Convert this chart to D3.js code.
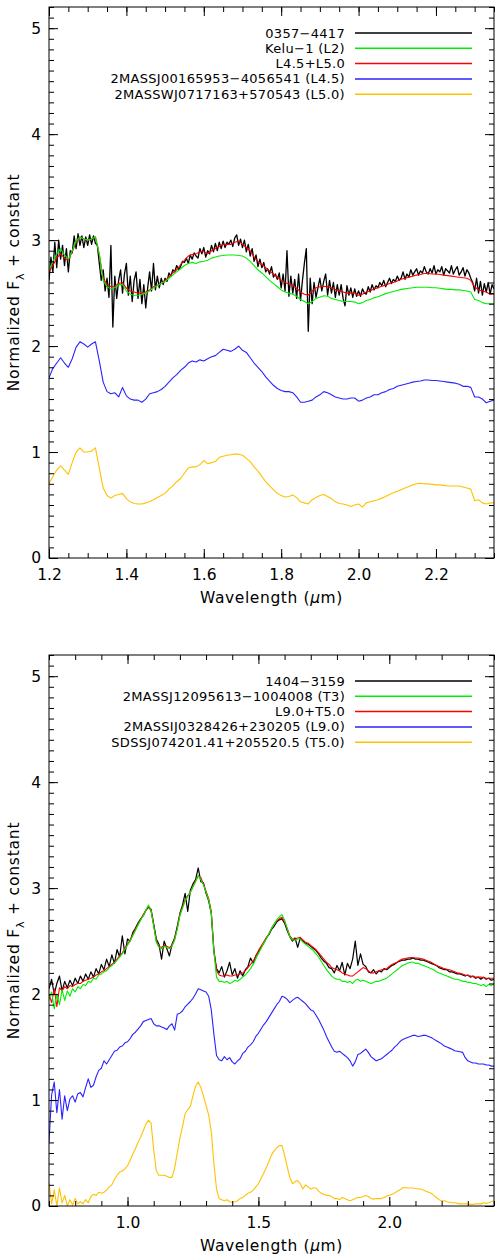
<!DOCTYPE html>
<html>
<head>
<meta charset="utf-8">
<script src="https://cdn.jsdelivr.net/npm/d3@7"></script>
<style>
  body { margin: 0; background: #fff; }
  svg { display: block; font-family: "DejaVu Sans", sans-serif; }
</style>
</head>
<body>
<div id="chart"></div>
<script>
// ---- top panel: 0357-4417 (L-dwarf fit), sampled every 0.01 um from 1.20 ----
const topStart = 1.20, topStep = 0.01;
const topRed = [
  2.70,2.76,2.83,2.87,2.83,2.81,2.89,2.98,3.03,3.01,
  3.00,3.01,3.03,2.86,2.64,2.58,2.56,2.565,2.59,2.60,
  2.545,2.52,2.51,2.50,2.50,2.51,2.53,2.56,2.575,2.59,
  2.62,2.65,2.69,2.72,2.77,2.81,2.85,2.865,2.87,2.89,
  2.89,2.87,2.90,2.92,2.94,2.96,2.96,2.96,2.98,2.99,
  2.96,2.93,2.90,2.84,2.80,2.77,2.74,2.71,2.68,2.65,
  2.62,2.60,2.585,2.575,2.545,2.51,2.49,2.48,2.52,2.55,
  2.56,2.565,2.56,2.55,2.535,2.52,2.51,2.50,2.50,2.50,
  2.48,2.49,2.51,2.52,2.54,2.55,2.565,2.575,2.59,2.60,
  2.615,2.63,2.64,2.65,2.66,2.67,2.675,2.685,2.685,2.68,
  2.68,2.675,2.67,2.665,2.66,2.655,2.65,2.645,2.64,2.62,
  2.56,2.53,2.52,2.51,2.49,2.49];
const topGreen = [
  2.72,2.80,2.87,2.92,2.86,2.82,2.90,2.99,3.03,3.01,
  3.00,3.01,3.03,2.87,2.62,2.56,2.54,2.55,2.58,2.58,
  2.52,2.49,2.48,2.48,2.49,2.50,2.52,2.55,2.57,2.59,
  2.61,2.64,2.67,2.70,2.73,2.76,2.78,2.79,2.78,2.795,
  2.80,2.81,2.83,2.84,2.85,2.855,2.86,2.86,2.86,2.855,
  2.85,2.83,2.80,2.76,2.72,2.69,2.655,2.62,2.59,2.56,
  2.53,2.51,2.50,2.49,2.47,2.44,2.42,2.40,2.42,2.45,
  2.46,2.475,2.47,2.45,2.44,2.43,2.42,2.42,2.42,2.415,
  2.40,2.41,2.43,2.44,2.455,2.465,2.48,2.495,2.505,2.515,
  2.525,2.535,2.54,2.545,2.55,2.555,2.555,2.555,2.555,2.55,
  2.55,2.545,2.54,2.535,2.535,2.53,2.53,2.525,2.52,2.51,
  2.44,2.43,2.41,2.40,2.40,2.40];
const topBlue = [
  1.70,1.79,1.84,1.89,1.84,1.80,1.88,1.99,2.04,2.02,
  1.99,2.02,2.04,1.86,1.66,1.57,1.55,1.56,1.52,1.61,
  1.53,1.50,1.49,1.49,1.47,1.50,1.55,1.56,1.57,1.59,
  1.62,1.66,1.70,1.73,1.77,1.80,1.84,1.86,1.85,1.87,
  1.86,1.88,1.90,1.91,1.94,1.97,1.96,1.95,1.97,2.00,
  1.96,1.94,1.89,1.84,1.80,1.76,1.71,1.67,1.63,1.60,
  1.58,1.57,1.57,1.56,1.52,1.47,1.47,1.48,1.49,1.52,
  1.54,1.57,1.56,1.54,1.52,1.51,1.50,1.50,1.51,1.51,
  1.48,1.49,1.51,1.52,1.54,1.54,1.56,1.57,1.59,1.60,
  1.62,1.63,1.64,1.65,1.66,1.665,1.67,1.68,1.68,1.675,
  1.675,1.67,1.665,1.66,1.655,1.65,1.64,1.62,1.62,1.61,
  1.52,1.52,1.50,1.465,1.48,1.49];
const topYellow = [
  0.70,0.77,0.83,0.87,0.83,0.79,0.90,1.00,1.04,1.00,
  1.00,1.01,1.04,0.85,0.66,0.59,0.565,0.59,0.60,0.61,
  0.56,0.53,0.515,0.51,0.51,0.52,0.53,0.55,0.57,0.59,
  0.61,0.65,0.68,0.72,0.75,0.80,0.85,0.86,0.86,0.88,
  0.92,0.89,0.90,0.91,0.95,0.96,0.97,0.975,0.98,0.98,
  0.97,0.94,0.91,0.86,0.82,0.77,0.72,0.68,0.645,0.61,
  0.59,0.575,0.58,0.595,0.57,0.53,0.52,0.51,0.55,0.57,
  0.59,0.60,0.58,0.56,0.53,0.515,0.51,0.50,0.485,0.50,
  0.51,0.48,0.52,0.53,0.54,0.55,0.565,0.58,0.60,0.615,
  0.63,0.645,0.66,0.675,0.69,0.70,0.705,0.70,0.70,0.695,
  0.69,0.69,0.685,0.68,0.68,0.68,0.68,0.67,0.66,0.65,
  0.54,0.55,0.52,0.51,0.52,0.52];
// observed spectrum, sampled every 0.005 um from 1.200
const topBlackStart = 1.200, topBlackStep = 0.005;
const topBlack = [
  2.62,2.84,2.70,2.98,2.74,3.00,2.82,2.95,2.76,2.92,
  2.70,2.90,2.88,3.04,2.92,3.06,2.95,3.04,2.93,3.03,
  2.95,3.05,2.96,3.04,2.97,2.95,2.78,2.62,2.72,2.52,
  2.64,2.46,2.95,2.18,2.66,2.45,2.62,2.72,2.50,2.68,
  2.78,2.48,2.66,2.42,2.62,2.70,2.45,2.63,2.40,2.58,
  2.36,2.55,2.70,2.52,2.78,2.53,2.66,2.55,2.64,2.58,
  2.64,2.61,2.69,2.66,2.72,2.70,2.76,2.72,2.75,2.80,
  2.79,2.83,2.78,2.86,2.82,2.88,2.85,2.83,2.92,2.87,
  2.93,2.84,2.90,2.87,2.95,2.89,2.97,2.90,2.98,2.92,
  2.99,2.93,2.98,2.96,3.00,2.94,3.02,3.05,2.95,3.01,
  2.93,3.00,2.89,2.96,2.85,2.92,2.80,2.86,2.75,2.82,
  2.74,2.79,2.70,2.73,2.68,2.75,2.65,2.68,2.63,2.69,
  2.55,2.68,2.52,2.90,2.47,2.66,2.50,2.63,2.45,2.68,
  2.43,2.62,2.78,2.92,2.14,2.64,2.40,2.60,2.46,2.55,
  2.64,2.52,2.61,2.68,2.48,2.62,2.50,2.60,2.46,2.58,
  2.48,2.58,2.45,2.38,2.57,2.48,2.55,2.46,2.54,2.47,
  2.52,2.47,2.54,2.50,2.49,2.56,2.51,2.58,2.53,2.57,
  2.55,2.60,2.57,2.62,2.56,2.60,2.64,2.59,2.63,2.61,
  2.66,2.62,2.64,2.70,2.63,2.68,2.65,2.72,2.67,2.70,
  2.73,2.67,2.71,2.69,2.75,2.70,2.68,2.73,2.69,2.76,
  2.68,2.72,2.70,2.75,2.67,2.73,2.71,2.69,2.76,2.68,
  2.72,2.75,2.67,2.70,2.74,2.66,2.72,2.69,2.64,2.60,
  2.52,2.64,2.50,2.61,2.48,2.59,2.51,2.60,2.49,2.58,
  2.54];

// ---- bottom panel: 1404-3159 (L/T fit), sampled every 0.01 um from 0.70 ----
const botStart = 0.70, botStep = 0.01;
const botBlack = [
  2.05,2.14,2.00,2.10,2.17,2.03,2.12,2.06,2.13,2.08,
  2.15,2.10,2.17,2.12,2.19,2.14,2.21,2.16,2.24,2.19,
  2.28,2.23,2.33,2.26,2.37,2.29,2.42,2.35,2.55,2.38,
  2.52,2.50,2.58,2.62,2.67,2.71,2.74,2.79,2.82,2.80,
  2.66,2.52,2.47,2.33,2.50,2.43,2.36,2.47,2.53,2.64,
  2.76,2.84,2.95,2.78,2.98,3.04,3.08,3.19,3.06,3.05,
  2.95,2.88,2.76,2.40,2.24,2.20,2.26,2.16,2.22,2.30,
  2.18,2.24,2.15,2.22,2.17,2.23,2.26,2.34,2.29,2.36,
  2.40,2.44,2.48,2.53,2.56,2.61,2.64,2.68,2.70,2.71,
  2.67,2.60,2.54,2.50,2.53,2.44,2.53,2.50,2.48,2.47,
  2.45,2.43,2.41,2.38,2.34,2.31,2.29,2.25,2.24,2.20,
  2.27,2.22,2.30,2.18,2.29,2.24,2.33,2.50,2.27,2.38,
  2.28,2.26,2.21,2.20,2.23,2.19,2.22,2.21,2.24,2.23,
  2.25,2.27,2.28,2.30,2.31,2.32,2.32,2.33,2.33,2.34,
  2.33,2.33,2.32,2.32,2.31,2.30,2.29,2.28,2.27,2.25,
  2.24,2.23,2.23,2.21,2.21,2.20,2.19,2.19,2.18,2.17,
  2.18,2.16,2.17,2.15,2.16,2.14,2.16,2.14,2.15,2.13,
  2.14];
const botGreen = [
  1.95,2.02,1.86,2.00,1.90,2.04,1.94,2.03,1.98,2.05,
  2.02,2.07,2.05,2.09,2.08,2.12,2.11,2.15,2.14,2.18,
  2.19,2.21,2.22,2.25,2.27,2.29,2.32,2.35,2.38,2.42,
  2.46,2.50,2.55,2.60,2.65,2.70,2.74,2.79,2.84,2.79,
  2.64,2.49,2.44,2.43,2.45,2.44,2.43,2.45,2.51,2.61,
  2.74,2.81,2.88,2.92,2.96,3.01,3.06,3.12,3.08,3.03,
  2.96,2.89,2.76,2.40,2.16,2.12,2.12,2.11,2.12,2.10,
  2.11,2.13,2.12,2.14,2.16,2.18,2.21,2.24,2.28,2.33,
  2.38,2.43,2.48,2.52,2.57,2.62,2.66,2.70,2.73,2.75,
  2.70,2.62,2.54,2.51,2.51,2.52,2.52,2.49,2.47,2.45,
  2.43,2.41,2.38,2.35,2.31,2.27,2.23,2.20,2.17,2.15,
  2.14,2.14,2.12,2.12,2.11,2.12,2.10,2.13,2.14,2.12,
  2.13,2.12,2.11,2.10,2.11,2.12,2.12,2.13,2.14,2.15,
  2.17,2.19,2.21,2.23,2.25,2.27,2.28,2.29,2.30,2.30,
  2.29,2.29,2.28,2.27,2.26,2.25,2.24,2.23,2.21,2.20,
  2.19,2.18,2.17,2.16,2.15,2.14,2.14,2.13,2.12,2.12,
  2.11,2.11,2.10,2.10,2.09,2.08,2.09,2.07,2.09,2.08,
  2.10];
const botRed = [
  2.00,1.92,2.05,1.88,2.06,2.03,2.07,2.05,2.08,2.07,
  2.09,2.10,2.10,2.12,2.13,2.14,2.15,2.16,2.18,2.19,
  2.21,2.22,2.24,2.26,2.28,2.30,2.33,2.36,2.39,2.43,
  2.47,2.51,2.56,2.61,2.66,2.70,2.75,2.79,2.83,2.78,
  2.65,2.50,2.45,2.44,2.46,2.45,2.44,2.46,2.52,2.62,
  2.75,2.82,2.89,2.93,2.96,3.02,3.07,3.11,3.10,3.04,
  2.97,2.90,2.78,2.42,2.22,2.18,2.17,2.17,2.18,2.17,
  2.17,2.18,2.18,2.19,2.20,2.22,2.25,2.28,2.31,2.36,
  2.41,2.45,2.49,2.53,2.57,2.62,2.66,2.69,2.71,2.725,
  2.68,2.62,2.55,2.52,2.52,2.53,2.535,2.51,2.49,2.48,
  2.46,2.44,2.42,2.39,2.36,2.33,2.30,2.28,2.25,2.24,
  2.23,2.22,2.20,2.19,2.18,2.17,2.17,2.19,2.21,2.23,
  2.25,2.24,2.22,2.20,2.20,2.21,2.22,2.23,2.23,2.24,
  2.26,2.28,2.29,2.30,2.32,2.33,2.335,2.34,2.345,2.345,
  2.34,2.34,2.335,2.33,2.32,2.31,2.30,2.285,2.27,2.26,
  2.25,2.24,2.235,2.23,2.22,2.21,2.20,2.195,2.19,2.18,
  2.175,2.17,2.165,2.16,2.16,2.16,2.155,2.15,2.15,2.15,
  2.15];
const botBlue = [
  0.60,1.05,1.17,0.88,1.10,0.82,1.04,0.90,1.01,1.04,
  0.98,1.06,1.07,1.03,1.12,1.20,1.12,1.14,1.22,1.28,
  1.30,1.37,1.34,1.38,1.42,1.46,1.47,1.50,1.51,1.54,
  1.55,1.58,1.62,1.64,1.67,1.70,1.74,1.75,1.76,1.77,
  1.72,1.70,1.70,1.69,1.68,1.665,1.70,1.72,1.66,1.81,
  1.82,1.84,1.88,1.905,1.93,1.96,2.00,2.05,2.04,2.03,
  2.02,1.98,1.85,1.62,1.42,1.38,1.37,1.41,1.38,1.40,
  1.36,1.34,1.37,1.39,1.44,1.46,1.50,1.52,1.55,1.60,
  1.63,1.67,1.71,1.74,1.78,1.82,1.86,1.90,1.93,1.98,
  1.97,1.95,1.92,1.94,1.96,1.97,1.95,1.93,1.91,1.88,
  1.85,1.84,1.80,1.76,1.71,1.66,1.60,1.55,1.50,1.46,
  1.45,1.46,1.44,1.42,1.40,1.37,1.32,1.36,1.43,1.44,
  1.46,1.48,1.45,1.41,1.39,1.37,1.38,1.39,1.41,1.43,
  1.45,1.47,1.50,1.52,1.55,1.57,1.58,1.59,1.60,1.61,
  1.61,1.60,1.605,1.61,1.61,1.60,1.59,1.575,1.56,1.545,
  1.53,1.51,1.50,1.49,1.48,1.465,1.46,1.455,1.45,1.40,
  1.37,1.36,1.35,1.35,1.34,1.34,1.34,1.33,1.33,1.32,
  1.32];
const botYellow = [
  0.22,0.02,0.15,0.00,0.17,0.03,0.10,0.00,0.06,0.01,
  0.07,0.02,0.04,0.02,0.06,0.03,0.09,0.11,0.10,0.13,
  0.12,0.13,0.15,0.18,0.20,0.25,0.29,0.32,0.33,0.35,
  0.38,0.43,0.49,0.54,0.60,0.65,0.71,0.77,0.81,0.78,
  0.53,0.33,0.29,0.29,0.29,0.28,0.27,0.27,0.36,0.50,
  0.64,0.75,0.87,0.91,0.94,1.04,1.13,1.17,1.12,1.04,
  0.95,0.86,0.70,0.40,0.16,0.07,0.06,0.05,0.06,0.04,
  0.035,0.04,0.05,0.07,0.08,0.10,0.12,0.13,0.15,0.18,
  0.21,0.26,0.31,0.36,0.42,0.48,0.52,0.55,0.57,0.57,
  0.48,0.37,0.27,0.21,0.23,0.24,0.21,0.16,0.20,0.18,
  0.16,0.17,0.17,0.14,0.12,0.11,0.10,0.10,0.09,0.07,
  0.07,0.06,0.08,0.07,0.06,0.05,0.06,0.07,0.08,0.08,
  0.09,0.10,0.09,0.07,0.065,0.07,0.07,0.07,0.08,0.095,
  0.10,0.11,0.12,0.14,0.15,0.17,0.175,0.17,0.17,0.17,
  0.165,0.16,0.16,0.15,0.14,0.13,0.12,0.10,0.08,0.06,
  0.05,0.05,0.04,0.035,0.03,0.03,0.025,0.02,0.02,0.02,
  0.02,0.015,0.015,0.02,0.02,0.02,0.03,0.025,0.03,0.04,
  0.05];

// legend labels (order: black, green, red, blue, yellow)
const topLegend = ["0357\u22124417", "Kelu\u22121 (L2)", "L4.5+L5.0",
  "2MASSJ00165953\u22124056541 (L4.5)", "2MASSWJ0717163+570543 (L5.0)"];
const botLegend = ["1404\u22123159", "2MASSJ12095613\u22121004008 (T3)", "L9.0+T5.0",
  "2MASSIJ0328426+230205 (L9.0)", "SDSSJ074201.41+205520.5 (T5.0)"];
const legendColors = ["#000000", "#00ee00", "#ff0000", "#2a22ff", "#ffc200"];

// tick labels
const topXTicks = [1.2, 1.4, 1.6, 1.8, 2.0, 2.2];
const botXTicks = [1.0, 1.5, 2.0];
const yTicks = [0, 1, 2, 3, 4, 5];

function grid(start, step, n) {
  return d3.range(n).map(i => +(start + i * step).toFixed(4));
}

const svg = d3.select("#chart").append("svg")
  .attr("width", 495)
  .attr("height", 1258);

let clipCount = 0;

function drawPanel(p) {
  const width = 445, height = 551;
  const x = d3.scaleLinear().domain(p.xDomain).range([0, width]);
  const y = d3.scaleLinear().domain([0, 5.2]).range([height, 0]);
  const g = svg.append("g").attr("transform", `translate(${p.left},${p.top})`);

  // clip to the frame
  const clipId = "clip" + (clipCount++);
  g.append("clipPath").attr("id", clipId)
    .append("rect").attr("width", width).attr("height", height);

  const line = d3.line()
    .x(d => x(d[0]))
    .y(d => y(d[1]));

  const curves = g.append("g").attr("clip-path", `url(#${clipId})`);
  p.series.forEach(s => {
    const pts = s.flux.map((v, i) => [s.wave[i], v]);
    curves.append("path")
      .datum(pts)
      .attr("fill", "none")
      .attr("stroke", s.color)
      .attr("stroke-width", s.width || 1.1)
      .attr("stroke-linejoin", "round")
      .attr("d", line);
  });

  // ticks, all four sides, pointing in
  const xMinor = d3.range(Math.round(p.xDomain[0] / p.xMinorStep), Math.round(p.xDomain[1] / p.xMinorStep) + 1)
    .map(k => +(k * p.xMinorStep).toFixed(4));
  const yMinor = d3.range(0, 53).map(k => +(k * 0.1).toFixed(2));

  function styleAxis(sel) {
    sel.select(".domain").remove();
    sel.selectAll("line").attr("stroke", "#000").attr("stroke-width", 1);
    sel.selectAll("text")
      .attr("font-size", 15.5)
      .attr("font-family", "DejaVu Sans, sans-serif")
      .attr("fill", "#000");
  }

  g.append("g").attr("transform", `translate(0,${height})`)
    .call(d3.axisBottom(x).tickValues(xMinor).tickSize(-5).tickFormat("")).call(styleAxis);
  g.append("g")
    .call(d3.axisTop(x).tickValues(xMinor).tickSize(-5).tickFormat("")).call(styleAxis);
  g.append("g")
    .call(d3.axisLeft(y).tickValues(yMinor).tickSize(-5).tickFormat("")).call(styleAxis);
  g.append("g").attr("transform", `translate(${width},0)`)
    .call(d3.axisRight(y).tickValues(yMinor).tickSize(-5).tickFormat("")).call(styleAxis);

  g.append("g").attr("transform", `translate(0,${height})`)
    .call(d3.axisBottom(x).tickValues(p.xTicks).tickSize(-9).tickPadding(11)
      .tickFormat(d3.format(".1f"))).call(styleAxis);
  g.append("g")
    .call(d3.axisTop(x).tickValues(p.xTicks).tickSize(-9).tickFormat("")).call(styleAxis);
  g.append("g")
    .call(d3.axisLeft(y).tickValues(yTicks).tickSize(-9).tickPadding(8)
      .tickFormat(d3.format("d"))).call(styleAxis);
  g.append("g").attr("transform", `translate(${width},0)`)
    .call(d3.axisRight(y).tickValues(yTicks).tickSize(-9).tickFormat("")).call(styleAxis);

  g.append("rect")
    .attr("width", width).attr("height", height)
    .attr("fill", "none").attr("stroke", "#000").attr("stroke-width", 1);

  // legend
  const legend = g.append("g").attr("transform", "translate(296,26)");
  p.legend.forEach((label, i) => {
    const row = legend.append("g").attr("transform", `translate(0,${i * 15.3})`);
    row.append("text")
      .attr("x", 0).attr("y", 4.5)
      .attr("text-anchor", "end")
      .attr("font-size", 13)
      .attr("letter-spacing", 0.3)
      .attr("fill", "#000")
      .text(label);
    row.append("line")
      .attr("x1", 10).attr("x2", 127)
      .attr("stroke", legendColors[i])
      .attr("stroke-width", 1.5);
  });

  // axis titles
  const xt = g.append("text")
    .attr("x", width / 2).attr("y", height + 45)
    .attr("text-anchor", "middle")
    .attr("font-size", 15.5)
    .attr("letter-spacing", 0.6)
    .attr("fill", "#000");
  xt.append("tspan").text("Wavelength (");
  xt.append("tspan").attr("font-style", "italic").text("\u03bc");
  xt.append("tspan").text("m)");

  const yt = g.append("text")
    .attr("transform", `translate(${19 - p.left},${height / 2}) rotate(-90)`)
    .attr("text-anchor", "middle")
    .attr("font-size", 15.5)
    .attr("letter-spacing", 0.8)
    .attr("fill", "#000");
  yt.append("tspan").text("Normalized F");
  yt.append("tspan").attr("font-size", 11).attr("dy", 5).text("\u03bb");
  yt.append("tspan").attr("dy", -5).text(" + constant");
}

const topW = grid(topStart, topStep, topRed.length);
const botW = grid(botStart, botStep, botRed.length);

drawPanel({
  left: 49, top: 7,
  xDomain: [1.2, 2.35], xMinorStep: 0.05, xTicks: topXTicks,
  legend: topLegend,
  series: [
    { wave: grid(topBlackStart, topBlackStep, topBlack.length), flux: topBlack, color: "#000000", width: 1.3 },
    { wave: topW, flux: topRed, color: "#ff0000" },
    { wave: topW, flux: topGreen, color: "#00ee00" },
    { wave: topW, flux: topBlue, color: "#2a22ff" },
    { wave: topW, flux: topYellow, color: "#ffc200" }
  ]
});

drawPanel({
  left: 49, top: 655,
  xDomain: [0.7, 2.4], xMinorStep: 0.1, xTicks: botXTicks,
  legend: botLegend,
  series: [
    { wave: botW, flux: botBlack, color: "#000000", width: 1.2 },
    { wave: botW, flux: botRed, color: "#ff0000" },
    { wave: botW, flux: botGreen, color: "#00ee00" },
    { wave: botW, flux: botBlue, color: "#2a22ff" },
    { wave: botW, flux: botYellow, color: "#ffc200" }
  ]
});
</script>
</body>
</html>
